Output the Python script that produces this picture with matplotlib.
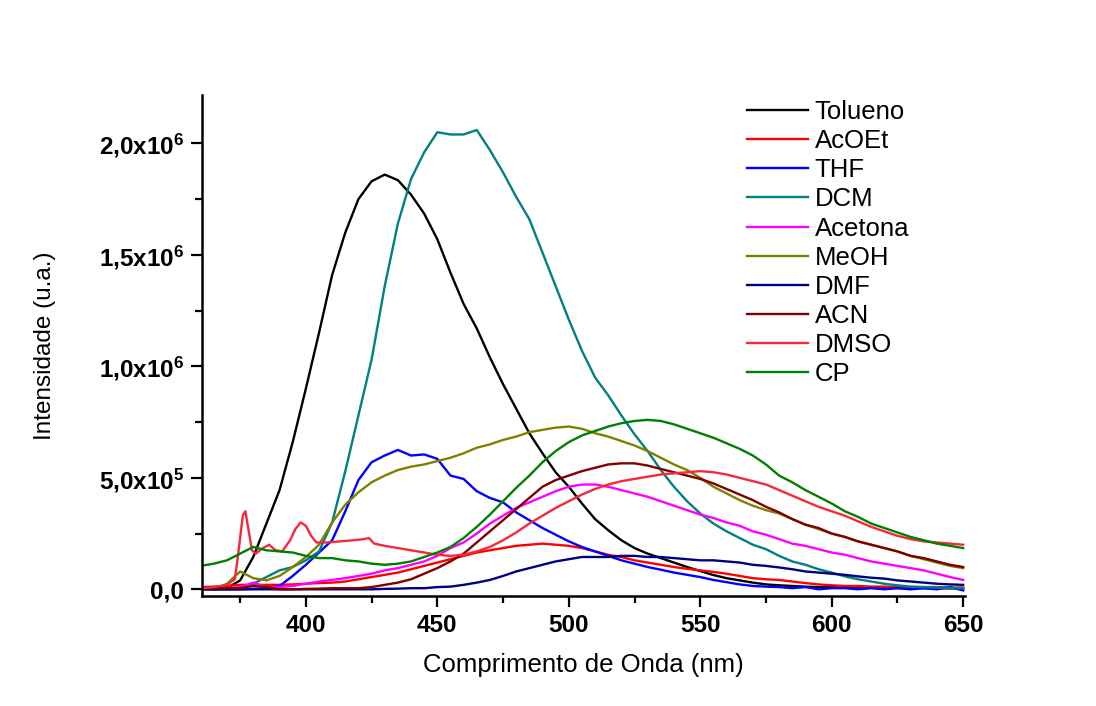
import numpy as np
import matplotlib
matplotlib.use("Agg")
import matplotlib.pyplot as plt
from matplotlib.ticker import MultipleLocator, FuncFormatter

plt.rcParams['font.family'] = ['Liberation Sans', 'DejaVu Sans']
plt.rcParams['mathtext.fontset'] = 'custom'
plt.rcParams['mathtext.bf'] = 'Liberation Sans:bold'
plt.rcParams['mathtext.rm'] = 'Liberation Sans:bold'
plt.rcParams['mathtext.default'] = 'bf'

# Wavelength grid (nm) shared by most spectra
wl = np.arange(360, 651, 5)

# Emission intensities in units of 1e5 (a.u.)
tolueno = [0.0, 0.0, 0.05, 0.4, 1.45, 2.95, 4.45, 6.6, 9.0, 11.5,
           14.1, 16.0, 17.5, 18.3, 18.6, 18.35, 17.7, 16.85, 15.7, 14.2,
           12.8, 11.7, 10.4, 9.2, 8.1, 7.0, 6.1, 5.25, 4.6, 3.85,
           3.15, 2.65, 2.2, 1.85, 1.6, 1.4, 1.2, 1.0, 0.82, 0.64,
           0.5, 0.4, 0.3, 0.22, 0.18, 0.15, 0.12, 0.1, 0.1, 0.08,
           0.08, 0.07, 0.06, 0.06, 0.05, 0.05, 0.05, 0.04, 0.04]
acoet = [0.1, 0.12, 0.15, 0.2, 0.2, 0.2, 0.2, 0.22, 0.25, 0.28,
         0.3, 0.35, 0.45, 0.55, 0.65, 0.75, 0.9, 1.05, 1.2, 1.35,
         1.5, 1.65, 1.75, 1.85, 1.95, 2.0, 2.05, 2.0, 1.95, 1.85,
         1.7, 1.55, 1.45, 1.3, 1.2, 1.1, 1.0, 0.92, 0.85, 0.78,
         0.7, 0.6, 0.5, 0.45, 0.42, 0.35, 0.28, 0.22, 0.18, 0.15,
         0.15, 0.12, 0.12, 0.1, 0.1, 0.1, 0.1, 0.08, 0.08]
thf = [0.0, 0.0, 0.0, 0.0, 0.02, 0.05, 0.15, 0.6, 1.1, 1.65,
       2.2, 3.5, 4.9, 5.7, 6.0, 6.25, 6.0, 6.05, 5.85, 5.1,
       4.95, 4.4, 4.1, 3.9, 3.45, 3.1, 2.75, 2.45, 2.15, 1.9,
       1.7, 1.5, 1.3, 1.15, 1.0, 0.88, 0.75, 0.65, 0.55, 0.42,
       0.32, 0.22, 0.15, 0.12, 0.1, 0.05, 0.1, 0.0, 0.05, 0.05,
       0.0, 0.05, 0.0, 0.05, 0.0, 0.05, 0.0, 0.1, -0.05]
dcm = [0.0, 0.0, 0.0, 0.05, 0.25, 0.55, 0.85, 1.0, 1.3, 1.7,
       3.0, 5.3, 7.8, 10.3, 13.6, 16.4, 18.4, 19.6, 20.5, 20.4,
       20.4, 20.6, 19.7, 18.7, 17.6, 16.6, 15.1, 13.6, 12.1, 10.7,
       9.5, 8.7, 7.8, 6.95, 6.2, 5.35, 4.6, 3.95, 3.4, 2.95,
       2.6, 2.3, 2.0, 1.8, 1.5, 1.25, 1.1, 0.9, 0.75, 0.58,
       0.45, 0.35, 0.25, 0.18, 0.12, 0.1, 0.08, 0.06, 0.05]
acetona = [0.05, 0.05, 0.05, 0.1, 0.3, 0.1, 0.1, 0.15, 0.25, 0.35,
           0.42, 0.5, 0.6, 0.7, 0.85, 0.95, 1.1, 1.25, 1.5, 1.85,
           2.1, 2.5, 2.95, 3.3, 3.65, 3.9, 4.15, 4.4, 4.6, 4.7,
           4.7, 4.6, 4.45, 4.3, 4.15, 3.95, 3.75, 3.55, 3.35, 3.2,
           3.0, 2.85, 2.6, 2.45, 2.25, 2.05, 1.95, 1.8, 1.65, 1.55,
           1.4, 1.25, 1.15, 1.05, 0.95, 0.85, 0.7, 0.55, 0.42]
meoh = [0.0, 0.0, 0.25, 0.8, 0.5, 0.4, 0.6, 1.0, 1.45, 2.0,
        3.0, 3.8, 4.35, 4.8, 5.1, 5.35, 5.5, 5.6, 5.75, 5.9,
        6.1, 6.35, 6.5, 6.7, 6.85, 7.05, 7.15, 7.25, 7.3, 7.2,
        7.0, 6.85, 6.65, 6.45, 6.2, 5.9, 5.6, 5.35, 5.0, 4.6,
        4.3, 4.0, 3.75, 3.55, 3.4, 3.15, 2.9, 2.7, 2.5, 2.35,
        2.15, 2.0, 1.85, 1.7, 1.5, 1.35, 1.2, 1.05, 0.95]
dmf = [0.0, 0.0, 0.0, 0.0, 0.0, 0.0, 0.0, 0.0, 0.0, 0.0,
       0.0, 0.0, 0.0, 0.0, 0.02, 0.03, 0.05, 0.05, 0.1, 0.12,
       0.2, 0.3, 0.42, 0.6, 0.8, 0.95, 1.1, 1.25, 1.35, 1.45,
       1.45, 1.45, 1.5, 1.5, 1.45, 1.45, 1.4, 1.35, 1.3, 1.3,
       1.25, 1.2, 1.1, 1.05, 0.98, 0.9, 0.8, 0.75, 0.7, 0.65,
       0.58, 0.52, 0.48, 0.4, 0.35, 0.3, 0.25, 0.22, 0.2]
acn = [0.05, 0.05, 0.05, 0.05, 0.15, 0.1, 0.0, 0.0, 0.02, 0.03,
       0.05, 0.05, 0.05, 0.1, 0.2, 0.3, 0.45, 0.7, 0.95, 1.25,
       1.6, 2.1, 2.6, 3.1, 3.6, 4.1, 4.6, 4.9, 5.1, 5.3,
       5.45, 5.6, 5.65, 5.65, 5.55, 5.4, 5.25, 5.1, 4.95, 4.75,
       4.5, 4.25, 4.0, 3.7, 3.45, 3.15, 2.9, 2.75, 2.5, 2.35,
       2.15, 2.0, 1.85, 1.7, 1.5, 1.4, 1.25, 1.1, 1.0]
cp = [1.05, 1.15, 1.3, 1.6, 1.9, 1.75, 1.7, 1.65, 1.5, 1.4,
      1.4, 1.3, 1.25, 1.15, 1.1, 1.15, 1.25, 1.45, 1.65, 1.9,
      2.3, 2.8, 3.35, 3.95, 4.55, 5.1, 5.7, 6.2, 6.6, 6.9,
      7.1, 7.3, 7.45, 7.55, 7.6, 7.55, 7.4, 7.2, 7.0, 6.8,
      6.55, 6.3, 6.0, 5.6, 5.1, 4.8, 4.45, 4.15, 3.85, 3.5,
      3.25, 2.95, 2.75, 2.55, 2.35, 2.2, 2.05, 1.95, 1.85]

# DMSO has sharp scattering features below 400 nm, so it gets its own grid
wl_dmso = [361, 365, 370, 373, 374.5, 376, 377, 378, 379.5, 381,
           383, 386, 388.5, 391, 394, 396, 398, 400, 402, 404,
           408, 413, 418, 422, 424, 426, 430, 435, 440, 445,
           450, 455, 460, 465, 470, 475, 480, 485, 490, 495,
           500, 505, 510, 515, 520, 525, 530, 535, 540, 545,
           550, 555, 560, 565, 570, 575, 580, 585, 590, 595,
           600, 605, 610, 615, 620, 625, 630, 635, 640, 645, 650]
dmso = [0.05, 0.1, 0.2, 0.45, 1.8, 3.3, 3.5, 2.8, 1.75, 1.6,
        1.8, 2.0, 1.75, 1.7, 2.2, 2.7, 3.0, 2.85, 2.4, 2.1,
        2.1, 2.15, 2.2, 2.25, 2.3, 2.05, 1.95, 1.85, 1.75, 1.65,
        1.55, 1.5, 1.55, 1.7, 1.9, 2.2, 2.55, 2.95, 3.3, 3.65,
        3.95, 4.25, 4.5, 4.7, 4.85, 4.95, 5.05, 5.15, 5.2, 5.25,
        5.3, 5.25, 5.15, 5.0, 4.85, 4.7, 4.45, 4.2, 3.95, 3.7,
        3.5, 3.3, 3.05, 2.8, 2.6, 2.4, 2.25, 2.15, 2.1, 2.05, 2.0]

series = [
    ("Tolueno", wl, tolueno, "#000000"),
    ("AcOEt", wl, acoet, "#FF0000"),
    ("THF", wl, thf, "#0000FF"),
    ("DCM", wl, dcm, "#008080"),
    ("Acetona", wl, acetona, "#FF00FF"),
    ("MeOH", wl, meoh, "#808000"),
    ("DMF", wl, dmf, "#000080"),
    ("ACN", wl, acn, "#800000"),
    ("DMSO", wl_dmso, dmso, "#F5283C"),
    ("CP", wl, cp, "#008000"),
]

fig = plt.figure(figsize=(10.96, 7.06), dpi=100)
ax = fig.add_axes([202 / 1096, 110 / 706, 763 / 1096, 501 / 706])

for name, x, y, color in series:
    ax.plot(x, np.asarray(y) * 1e5, color=color, lw=1.7, label=name)

ax.set_xlim(360.5, 650.7)
ax.set_ylim(-0.03e6, 2.217e6)

ax.xaxis.set_major_locator(MultipleLocator(50))
ax.xaxis.set_minor_locator(MultipleLocator(25))
ax.yaxis.set_major_locator(MultipleLocator(5e5))
ax.yaxis.set_minor_locator(MultipleLocator(2.5e5))


def sci_fmt(v, pos):
    if abs(v) < 1:
        return "0,0"
    exp = int(np.floor(np.log10(abs(v))))
    mant = v / 10 ** exp
    return ("%.1f" % mant).replace(".", ",") + "x10$^{%d}$" % exp


ax.yaxis.set_major_formatter(FuncFormatter(sci_fmt))

for side in ("top", "right"):
    ax.spines[side].set_visible(False)
for side in ("left", "bottom"):
    ax.spines[side].set_linewidth(1.8)

ax.tick_params(which="major", direction="out", length=8, width=1.6,
               labelsize=17.5, pad=5)
ax.tick_params(which="minor", direction="out", length=5, width=1.6)
for lab in ax.get_xticklabels() + ax.get_yticklabels():
    lab.set_fontweight("bold")

ax.set_xlabel("Comprimento de Onda (nm)", fontsize=18.5, va="top")
ax.set_ylabel("Intensidade (u.a.)", fontsize=17.5, va="bottom")
ax.xaxis.set_label_coords(0.5, -(653 - 596) / 501)
ax.yaxis.set_label_coords((56 - 202) / 763, 0.5)

ax.legend(loc="upper left", bbox_to_anchor=(747 / 1096, 1 - 100 / 706),
          bbox_transform=fig.transFigure, frameon=False, fontsize=18.5,
          handlelength=2.37, handletextpad=0.27, labelspacing=0.2,
          borderpad=0, borderaxespad=0)

fig.savefig("out.png", dpi=100)
